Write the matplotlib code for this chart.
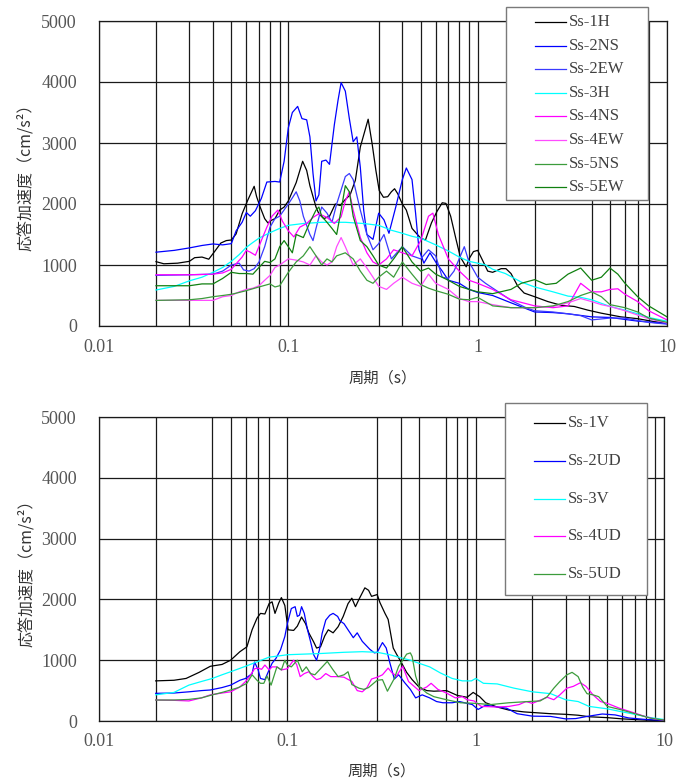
import matplotlib
matplotlib.use("Agg")
import matplotlib.pyplot as plt
from matplotlib.ticker import FixedLocator, NullFormatter
from matplotlib.lines import Line2D
from matplotlib.patches import Rectangle

# ---------------------------------------------------------------- axes data
x_ticks = [0.01, 0.1, 1, 10]
x_tick_labels = ["0.01", "0.1", "1", "10"]
y_ticks = [0, 1000, 2000, 3000, 4000, 5000]
x_label = "周期（s）"
y_label = "応答加速度（cm/s²）"

# ---------------------------------------------------------------- horizontal components
ss1h_T = [0.02, 0.022, 0.026, 0.03, 0.032, 0.035, 0.038, 0.041, 0.044, 0.047,
          0.05, 0.053, 0.057, 0.061, 0.066, 0.068, 0.071, 0.075, 0.078, 0.081,
          0.085, 0.09, 0.095, 0.1, 0.11, 0.119, 0.125, 0.13, 0.14, 0.145,
          0.154, 0.165, 0.177, 0.188, 0.198, 0.212, 0.226, 0.24, 0.264, 0.277,
          0.29, 0.302, 0.318, 0.335, 0.35, 0.364, 0.378, 0.4, 0.42, 0.45,
          0.5, 0.53, 0.57, 0.61, 0.65, 0.68, 0.72, 0.77, 0.81, 0.87,
          0.9, 0.95, 1.0, 1.06, 1.13, 1.2, 1.33, 1.41, 1.5, 1.63,
          1.76, 2.0, 2.35, 2.76, 3.24, 3.82, 4.5, 5.7, 7.0, 8.6, 10]
ss1h_A = [1055, 1020, 1030, 1060, 1120, 1130, 1095, 1230, 1360, 1400,
          1410, 1510, 1840, 2060, 2290, 2120, 1950, 1760, 1690, 1730,
          1760, 1900, 1950, 2050, 2350, 2700, 2550, 2300, 1950, 1840,
          1760, 1800, 2000, 1975, 2060, 2150, 2390, 2935, 3390, 2990,
          2550, 2220, 2110, 2120, 2200, 2250, 2170, 2000, 1900, 1600,
          1440, 1410, 1690, 1880, 2020, 2010, 1800, 1410, 1130, 970,
          1100, 1220, 1240, 1080, 900, 880, 940, 940, 860, 650,
          540, 480, 400, 340, 320, 260, 210, 150, 120, 70, 50]

ss2ns_T = [0.02, 0.025, 0.03, 0.035, 0.04, 0.045, 0.05, 0.053, 0.057, 0.06,
           0.063, 0.067, 0.072, 0.077, 0.085, 0.09, 0.095, 0.1, 0.105, 0.112,
           0.118, 0.125, 0.13, 0.135, 0.14, 0.145, 0.15, 0.158, 0.165, 0.175,
           0.183, 0.19, 0.2, 0.21, 0.22, 0.23, 0.24, 0.25, 0.26, 0.28,
           0.3, 0.32, 0.34, 0.37, 0.4, 0.42, 0.45, 0.47, 0.49, 0.52,
           0.56, 0.6, 0.65, 0.7, 0.8, 0.9, 1.0, 1.2, 1.5, 2.0,
           2.5, 3.0, 4.0, 5.0, 7.0, 10]
ss2ns_A = [1210, 1240, 1280, 1320, 1345, 1330, 1350, 1560, 1700, 1860,
           1800, 1890, 2090, 2360, 2370, 2360, 2700, 3250, 3500, 3600,
           3400, 3380, 3100, 2500, 2050, 2150, 2700, 2720, 2650, 3300,
           3700, 3990, 3850, 3400, 3020, 3100, 2600, 1900, 1500, 1420,
           1850, 1740, 1520, 1960, 2400, 2590, 2400, 1850, 1250, 1030,
           1200, 1050, 900, 750, 700, 600, 550, 500, 380, 230,
           220, 200, 150, 140, 80, 40]

ss2ew_T = [0.02, 0.03, 0.04, 0.045, 0.05, 0.055, 0.058, 0.062, 0.066, 0.07,
           0.075, 0.08, 0.085, 0.09, 0.1, 0.105, 0.11, 0.115, 0.12, 0.13,
           0.135, 0.14, 0.15, 0.16, 0.17, 0.18, 0.2, 0.21, 0.22, 0.24,
           0.26, 0.28, 0.3, 0.32, 0.35, 0.4, 0.45, 0.5, 0.55, 0.6,
           0.65, 0.7, 0.75, 0.85, 0.9, 1.0, 1.1, 1.3, 1.5, 1.8,
           2.0, 2.5, 3.0, 3.5, 4.0, 5.0, 6.0, 7.0, 8.0, 10]
ss2ew_A = [830, 840, 850, 900, 1000, 1030, 920, 900, 940, 1050,
           1300, 1620, 1760, 1800, 2000, 2100, 2200, 2050, 1800, 1500,
           1400, 1600, 1950, 1850, 1700, 2000, 2450, 2500, 2400, 1900,
           1500, 1250, 1350, 1500, 1100, 1300, 1150, 1100, 1250, 1150,
           800, 780, 900, 1300, 1050, 800, 700, 550, 420, 300,
           250, 230, 200, 170, 100, 130, 130, 90, 60, 30]

ss3h_T = [0.02, 0.025, 0.03, 0.035, 0.04, 0.045, 0.05, 0.055, 0.06, 0.065,
          0.07, 0.08, 0.09, 0.1, 0.12, 0.15, 0.2, 0.25, 0.3, 0.35,
          0.4, 0.45, 0.5, 0.6, 0.7, 0.8, 0.9, 1.0, 1.1, 1.2,
          1.4, 1.7, 2.0, 2.5, 3.0, 3.5, 4.0, 5.0, 6.0, 7.0, 8.0, 10]
ss3h_A = [590, 650, 740, 800, 880, 960, 1060, 1170, 1290, 1370,
          1440, 1530, 1600, 1650, 1680, 1700, 1700, 1680, 1650, 1570,
          1520, 1470, 1440, 1330, 1230, 1130, 1060, 1030, 1000, 930,
          860, 720, 640, 560, 490, 470, 430, 320, 260, 200, 140, 80]

ss4ns_T = [0.02, 0.03, 0.04, 0.045, 0.05, 0.053, 0.057, 0.06, 0.063, 0.067,
           0.072, 0.077, 0.082, 0.088, 0.093, 0.1, 0.107, 0.115, 0.125, 0.135,
           0.145, 0.16, 0.175, 0.19, 0.2, 0.21, 0.22, 0.24, 0.26, 0.28,
           0.3, 0.33, 0.36, 0.4, 0.45, 0.5, 0.55, 0.58, 0.62, 0.7,
           0.8, 0.9, 1.0, 1.2, 1.5, 2.0, 2.5, 3.0, 3.5, 4.0,
           4.5, 5.0, 5.5, 6.0, 7.0, 8.0, 10]
ss4ns_A = [840, 840, 850, 870, 930, 1020, 1130, 1240, 1210, 1160,
           1400, 1620, 1800, 1900, 1720, 1560, 1460, 1620, 1680, 1780,
           1840, 1780, 1680, 1790, 2050, 2200, 1900, 1450, 1200, 1050,
           1000, 1100, 1250, 1200, 1150, 1400, 1800, 1850, 1500, 1100,
           900, 750, 700, 600, 430, 330, 300, 330, 700, 560,
           560, 600, 610, 520, 400, 250, 100]

ss4ew_T = [0.02, 0.03, 0.04, 0.045, 0.05, 0.055, 0.06, 0.065, 0.07, 0.075,
           0.08, 0.085, 0.09, 0.1, 0.11, 0.12, 0.13, 0.14, 0.15, 0.16,
           0.17, 0.18, 0.19, 0.2, 0.22, 0.24, 0.26, 0.28, 0.3, 0.33,
           0.36, 0.4, 0.45, 0.5, 0.55, 0.6, 0.7, 0.8, 0.9, 1.0,
           1.2, 1.5, 2.0, 2.5, 3.0, 3.5, 4.0, 4.5, 5.0, 6.0, 7.0, 8.0, 10]
ss4ew_A = [420, 420, 420, 480, 500, 560, 600, 620, 660, 750,
           830, 960, 1000, 1100, 1080, 1050, 1000, 1150, 1050, 1000,
           1050, 1300, 1450, 1300, 1000, 1100, 950, 800, 650, 600,
           700, 800, 700, 650, 850, 700, 600, 450, 400, 400,
           350, 300, 300, 320, 380, 450, 400, 350, 320, 250, 180, 120, 50]

ss5ns_T = [0.02, 0.03, 0.035, 0.04, 0.045, 0.05, 0.055, 0.06, 0.07, 0.08,
           0.085, 0.09, 0.1, 0.11, 0.12, 0.13, 0.14, 0.15, 0.16, 0.17,
           0.18, 0.2, 0.22, 0.24, 0.26, 0.28, 0.3, 0.33, 0.36, 0.4,
           0.45, 0.5, 0.55, 0.6, 0.7, 0.8, 0.9, 1.0, 1.2, 1.5,
           2.0, 2.5, 3.0, 3.5, 4.0, 4.5, 5.0, 6.0, 7.0, 8.0, 10]
ss5ns_A = [420, 430, 450, 480, 500, 520, 550, 580, 640, 690,
           640, 660, 880, 1050, 1150, 1300, 1150, 1000, 1100, 1050,
           1150, 1200, 1100, 900, 750, 700, 800, 900, 800, 1050,
           850, 680, 620, 580, 520, 440, 430, 470, 330, 300,
           300, 330, 400, 500, 560, 480, 350, 300, 230, 130, 60]

ss5ew_T = [0.02, 0.03, 0.035, 0.04, 0.045, 0.05, 0.055, 0.06, 0.065, 0.07,
           0.075, 0.08, 0.085, 0.09, 0.095, 0.1, 0.105, 0.11, 0.12, 0.13,
           0.14, 0.145, 0.15, 0.16, 0.17, 0.18, 0.19, 0.2, 0.21, 0.22,
           0.24, 0.26, 0.28, 0.3, 0.33, 0.36, 0.4, 0.45, 0.5, 0.55,
           0.6, 0.7, 0.8, 0.9, 1.0, 1.2, 1.5, 1.7, 2.0, 2.3,
           2.6, 3.0, 3.5, 4.0, 4.5, 5.0, 5.5, 6.0, 7.0, 8.0, 10]
ss5ew_A = [660, 660, 690, 690, 780, 880, 860, 860, 850, 960,
           1060, 1040, 1100, 1300, 1400, 1300, 1200, 1500, 1450, 1700,
           1900, 1950, 1800, 1700, 1600, 1500, 1900, 2300, 2200, 1800,
           1400, 1300, 1150, 1000, 950, 1100, 1300, 1050, 900, 950,
           850, 750, 650, 600, 560, 530, 600, 700, 760, 680,
           700, 850, 950, 750, 800, 950, 850, 700, 480, 330, 150]

# ---------------------------------------------------------------- vertical components
ss1v_T = [0.02, 0.025, 0.029, 0.034, 0.039, 0.045, 0.05, 0.056, 0.061, 0.065,
          0.069, 0.072, 0.076, 0.08, 0.083, 0.086, 0.09, 0.093, 0.097, 0.101,
          0.108, 0.113, 0.119, 0.125, 0.13, 0.138, 0.143, 0.15, 0.158, 0.165,
          0.175, 0.186, 0.198, 0.21, 0.22, 0.23, 0.24, 0.258, 0.27, 0.28,
          0.3, 0.31, 0.33, 0.343, 0.365, 0.38, 0.405, 0.43, 0.46, 0.5,
          0.55, 0.6, 0.7, 0.8, 0.9, 0.97, 1.05, 1.13, 1.3, 1.5,
          1.8, 2.0, 2.5, 3.0, 3.5, 4.0, 5.0, 6.0, 8.0, 10]
ss1v_A = [660, 670, 700, 800, 900, 930, 1000, 1140, 1220, 1500,
          1690, 1770, 1760, 1930, 1960, 1770, 1940, 2030, 1900, 1500,
          1490, 1560, 1710, 1600, 1450, 1300, 1200, 1220, 1400, 1500,
          1450, 1550, 1720, 1930, 2020, 1880, 2000, 2190, 2150, 2050,
          2080, 1950, 1770, 1670, 1200, 1100, 950, 800, 680, 560,
          500, 490, 500, 420, 390, 470, 400, 300, 230, 180,
          150, 140, 120, 110, 95, 70, 55, 35, 15, 5]

ss2ud_T = [0.02, 0.025, 0.03, 0.035, 0.039, 0.045, 0.05, 0.056, 0.06, 0.065,
           0.067, 0.07, 0.072, 0.076, 0.08, 0.083, 0.087, 0.092, 0.097, 0.1,
           0.105, 0.11, 0.113, 0.116, 0.119, 0.123, 0.128, 0.133, 0.138, 0.143,
           0.148, 0.153, 0.16, 0.168, 0.175, 0.185, 0.19, 0.2, 0.21, 0.224,
           0.235, 0.25, 0.274, 0.29, 0.3, 0.32, 0.335, 0.35, 0.37, 0.39,
           0.42, 0.45, 0.48, 0.52, 0.57, 0.62, 0.67, 0.75, 0.82, 0.9,
           0.96, 1.03, 1.13, 1.25, 1.46, 1.66, 2.0, 2.5, 3.0, 3.4,
           3.9, 4.7, 5.5, 6.5, 8.0, 10]
ss2ud_A = [455, 460, 480, 500, 510, 550, 590, 670, 700, 780,
           970, 840, 700, 680, 840, 950, 1030, 1170, 1390, 1600,
           1850, 1880, 1720, 1740, 1880, 1770, 1500, 1300, 1090, 1000,
           1170, 1440, 1660, 1740, 1770, 1720, 1650, 1600, 1500, 1370,
           1450, 1310, 1180, 1120, 1130, 1290, 1200, 960, 690, 760,
           630, 520, 380, 430, 380, 320, 300, 300, 320, 290,
           270, 190, 260, 240, 210, 120, 80, 75, 35, 40,
           75, 115, 100, 50, 25, 10]

ss3v_T = [0.02, 0.025, 0.03, 0.035, 0.04, 0.045, 0.05, 0.06, 0.07, 0.08,
          0.09, 0.1, 0.15, 0.2, 0.25, 0.3, 0.35, 0.4, 0.45, 0.5,
          0.57, 0.65, 0.75, 0.85, 0.95, 1.0, 1.1, 1.3, 1.6, 2.0,
          2.5, 3.0, 3.5, 4.0, 5.0, 6.0, 7.0, 8.5, 10]
ss3v_A = [430, 470, 590, 650, 700, 760, 810, 900, 980, 1050,
          1070, 1090, 1110, 1130, 1140, 1130, 1090, 1040, 1000, 950,
          890, 790, 700, 660, 660, 700, 620, 610, 540, 480,
          450, 350, 320, 240, 200, 150, 110, 55, 25]

ss4ud_T = [0.02, 0.025, 0.03, 0.035, 0.039, 0.045, 0.05, 0.056, 0.06, 0.063,
           0.067, 0.07, 0.073, 0.076, 0.08, 0.083, 0.088, 0.093, 0.1, 0.105,
           0.108, 0.112, 0.117, 0.123, 0.13, 0.138, 0.143, 0.15, 0.16, 0.17,
           0.186, 0.2, 0.22, 0.235, 0.25, 0.265, 0.28, 0.3, 0.32, 0.343,
           0.36, 0.38, 0.41, 0.44, 0.5, 0.55, 0.58, 0.63, 0.7, 0.78,
           0.85, 0.9, 0.98, 1.07, 1.3, 1.5, 1.7, 1.85, 2.0, 2.4,
           2.6, 2.8, 3.05, 3.3, 3.6, 3.85, 4.0, 4.2, 4.6, 5.0,
           5.8, 7.0, 8.0, 9.0, 10]
ss4ud_A = [345, 340, 330, 380, 430, 460, 480, 560, 650, 730,
           860, 870, 850, 920, 840, 890, 890, 840, 860, 950,
           1000, 930, 730, 780, 810, 720, 680, 700, 780, 730,
           730, 720, 650, 500, 480, 550, 690, 720, 760, 870,
           790, 740, 900, 650, 500, 560, 620, 520, 460, 380,
           400, 350, 330, 240, 230, 240, 270, 320, 290, 390,
           350, 430, 540, 570, 630, 570, 510, 430, 320, 290,
           210, 130, 70, 30, 15]

ss5ud_T = [0.02, 0.025, 0.03, 0.035, 0.04, 0.045, 0.05, 0.055, 0.061, 0.065,
           0.069, 0.072, 0.075, 0.078, 0.082, 0.088, 0.093, 0.097, 0.1, 0.105,
           0.113, 0.12, 0.126, 0.133, 0.14, 0.148, 0.163, 0.175, 0.186, 0.2,
           0.21, 0.22, 0.24, 0.255, 0.27, 0.3, 0.32, 0.34, 0.37, 0.39,
           0.41, 0.43, 0.45, 0.46, 0.48, 0.5, 0.55, 0.6, 0.7, 0.83,
           1.0, 1.2, 1.5, 1.9, 2.2, 2.4, 2.6, 2.8, 3.05, 3.25,
           3.5, 3.7, 3.9, 4.2, 4.5, 5.0, 6.0, 7.0, 8.5, 10]
ss5ud_A = [345, 345, 355, 380, 430, 470, 510, 550, 620, 760,
           670, 620, 620, 740, 590, 890, 840, 1000, 920, 890,
           1000, 810, 890, 780, 760, 840, 980, 840, 730, 760,
           810, 600, 540, 520, 550, 670, 680, 490, 700, 900,
           1000, 1100, 1120, 1060, 740, 570, 460, 400, 350, 300,
           290, 270, 300, 320, 330, 400, 540, 650, 760, 800,
           730, 560, 450, 430, 400, 240, 180, 120, 45, 15]

top_labels = ["Ss-1H", "Ss-2NS", "Ss-2EW", "Ss-3H", "Ss-4NS", "Ss-4EW", "Ss-5NS", "Ss-5EW"]
top_colors = ["#000000", "#0000ff", "#3a3aff", "#00ffff", "#ff00ff", "#ff4cff", "#3c9c3c", "#108010"]
top_series = [(ss1h_T, ss1h_A), (ss2ns_T, ss2ns_A), (ss2ew_T, ss2ew_A), (ss3h_T, ss3h_A),
              (ss4ns_T, ss4ns_A), (ss4ew_T, ss4ew_A), (ss5ns_T, ss5ns_A), (ss5ew_T, ss5ew_A)]

bot_labels = ["Ss-1V", "Ss-2UD", "Ss-3V", "Ss-4UD", "Ss-5UD"]
bot_colors = ["#000000", "#0000ff", "#00ffff", "#ff00ff", "#3c9c3c"]
bot_series = [(ss1v_T, ss1v_A), (ss2ud_T, ss2ud_A), (ss3v_T, ss3v_A),
              (ss4ud_T, ss4ud_A), (ss5ud_T, ss5ud_A)]

# period grid lines drawn in each panel
top_vgrid = [0.02, 0.03, 0.04, 0.05, 0.06, 0.07, 0.08, 0.09,
             0.3, 0.4, 0.5, 0.6, 0.7, 0.8, 0.9, 2, 4, 5, 6, 7, 8]
bot_vgrid = [0.02, 0.04, 0.05, 0.06, 0.07, 0.08,
             0.3, 0.4, 0.5, 0.7, 0.8, 0.9, 2, 3, 4, 5, 6, 7, 8, 9]

# ---------------------------------------------------------------- figure
W, H = 691, 781
fig = plt.figure(figsize=(W / 100, H / 100), dpi=100)
fig.patch.set_facecolor("white")


def fx(px):
    return px / W


def fy(py):
    return 1 - py / H


ax_top = fig.add_axes([fx(99), fy(326), fx(667) - fx(99), fy(21) - fy(326)])
ax_bot = fig.add_axes([fx(99), fy(721), fx(664) - fx(99), fy(417) - fy(721)])

num_font = "Liberation Serif"
jp_font = ["Noto Sans CJK JP", "DejaVu Sans"]
grid_col = "#1a1a1a"


def style_axes(ax, vgrid, xlabel_y):
    ax.set_xscale("log")
    ax.set_xlim(0.01, 10)
    ax.set_ylim(0, 5000)
    ax.xaxis.set_major_locator(FixedLocator(x_ticks))
    ax.set_xticklabels(x_tick_labels)
    ax.xaxis.set_minor_locator(FixedLocator(vgrid))
    ax.xaxis.set_minor_formatter(NullFormatter())
    ax.set_yticks(y_ticks)
    ax.set_yticklabels([str(v) for v in y_ticks])
    ax.tick_params(which="both", length=0)
    ax.tick_params(axis="y", pad=16, labelsize=13, labelcolor="#555555")
    ax.tick_params(axis="x", pad=9, labelsize=13, labelcolor="#555555")
    for lab in ax.get_xticklabels() + ax.get_yticklabels():
        lab.set_fontfamily(num_font)
    ax.grid(which="both", axis="x", color=grid_col, lw=0.9)
    ax.grid(which="major", axis="y", color=grid_col, lw=0.9)
    ax.set_axisbelow(True)
    for s in ax.spines.values():
        s.set_color(grid_col)
        s.set_linewidth(0.9)
    ax.set_xlabel(x_label, fontfamily=jp_font, fontsize=11, color="#333333")
    ax.xaxis.set_label_coords(0.5, xlabel_y)
    ax.set_ylabel(y_label, fontfamily=jp_font, fontsize=11.5, color="#333333")
    ax.yaxis.set_label_coords(-0.114, 0.5)


style_axes(ax_top, top_vgrid, -0.142)
style_axes(ax_bot, bot_vgrid, -0.135)

for (T, A), c in zip(top_series, top_colors):
    ax_top.plot(T, A, color=c, lw=0.9)
for (T, A), c in zip(bot_series, bot_colors):
    ax_bot.plot(T, A, color=c, lw=0.9)


def draw_key(box, rows_y, labels, colors):
    x0, y0, x1, y1 = box
    fig.add_artist(Rectangle((fx(x0), fy(y1)), fx(x1) - fx(x0), fy(y0) - fy(y1),
                             transform=fig.transFigure, facecolor="white",
                             edgecolor="#7a7a7a", lw=1.0, zorder=5))
    for y, lab, c in zip(rows_y, labels, colors):
        fig.add_artist(Line2D([fx(x0 + 29), fx(x0 + 60)], [fy(y), fy(y)], color=c,
                              lw=0.9, transform=fig.transFigure, zorder=6))
        fig.text(fx(x0 + 63), fy(y), lab, fontfamily=num_font, fontsize=12,
                 color="#404040", va="center", ha="left", zorder=7)


draw_key((506, 7, 648, 200), [22 + 23.6 * i for i in range(8)], top_labels, top_colors)
draw_key((505, 403, 647, 595), [423.3 + 37.7 * i for i in range(5)], bot_labels, bot_colors)

fig.savefig("out.png", dpi=100)
